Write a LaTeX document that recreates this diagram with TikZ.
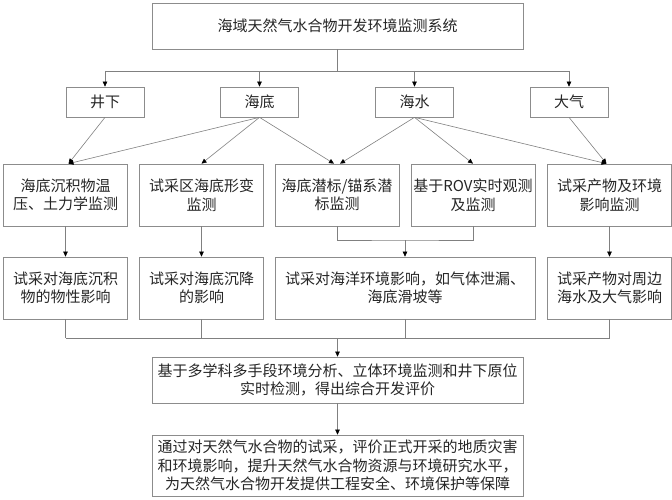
\documentclass[tikz,border=0pt]{standalone}
\usepackage{fontspec}
\newfontfamily\cjk{Noto Sans CJK SC}
\usetikzlibrary{arrows.meta}
\begin{document}
\begin{tikzpicture}[x=1pt,y=-1pt,
  box/.style={draw=black!45, line width=0.7pt, rectangle, inner sep=1pt, align=center,
    font=\cjk\fontsize{15}{18.5}\selectfont, text=black!85},
  conn/.style={draw=black!50, line width=0.6pt},
  arr/.style={conn, -{Triangle[length=5pt,width=4.5pt,color=black]}}]
\useasboundingbox (0,0) rectangle (672,500);
% top
\node[box, minimum width=371pt, minimum height=46pt] (top) at (337.5,26) {海域天然气水合物开发环境监测系统};
% level 2
\node[box, minimum width=78pt, minimum height=30pt] (jx) at (105,102) {井下};
\node[box, minimum width=78pt, minimum height=30pt] (hd) at (259.5,102) {海底};
\node[box, minimum width=78pt, minimum height=30pt] (hs) at (414.5,102) {海水};
\node[box, minimum width=78pt, minimum height=30pt] (dq) at (569,102) {大气};
% level 3
\node[box, minimum width=124pt, minimum height=62pt] (a1) at (65.5,195) {海底沉积物温\\压、土力学监测};
\node[box, minimum width=124pt, minimum height=62pt] (a2) at (201.5,195) {试采区海底形变\\监测};
\node[box, minimum width=124pt, minimum height=62pt] (a3) at (337,195) {海底潜标/锚系潜\\标监测};
\node[box, minimum width=124pt, minimum height=62pt] (a4) at (473,195) {基于ROV实时观测\\及监测};
\node[box, minimum width=124pt, minimum height=62pt] (a5) at (609.5,195) {试采产物及环境\\影响监测};
% level 4
\node[box, minimum width=124pt, minimum height=62pt] (b1) at (65.5,288) {试采对海底沉积\\物的物性影响};
\node[box, minimum width=124pt, minimum height=62pt] (b2) at (201.5,288) {试采对海底沉降\\的影响};
\node[box, minimum width=260pt, minimum height=62pt] (b3) at (405,288) {试采对海洋环境影响，如气体泄漏、\\海底滑坡等};
\node[box, minimum width=124pt, minimum height=62pt] (b4) at (609.5,288) {试采产物对周边\\海水及大气影响};
% bottom
\node[box, minimum width=371pt, minimum height=46pt] (c1) at (337.5,380) {基于多学科多手段环境分析、立体环境监测和井下原位\\实时检测，得出综合开发评价};
\node[box, minimum width=371pt, minimum height=61pt] (c2) at (337.5,465.5) {通过对天然气水合物的试采，评价正式开采的地质灾害\\和环境影响，提升天然气水合物资源与环境研究水平，\\为天然气水合物开发提供工程安全、环境保护等保障};
% coordinates
\coordinate (h1) at (337.5,71);
\coordinate (h2) at (405,240);
\coordinate (h3) at (337.5,338);
% top to level 2
\draw[conn] (top.south) -- (h1);
\draw[conn] (jx.north |- h1) -- (dq.north |- h1);
\foreach \n in {jx,hd,hs,dq} \draw[arr] (\n.north |- h1) -- (\n.north);
% level 2 to level 3
\draw[arr] (jx.south) -- ([xshift=3pt]a1.north);
\draw[arr] (hd.south) -- ([xshift=3pt]a1.north);
\draw[arr] (hd.south) -- (a2.north);
\draw[arr] (hd.south) -- ([xshift=-3pt]a3.north);
\draw[arr] (hs.south) -- ([xshift=3pt]a3.north);
\draw[arr] (hs.south) -- (a4.north);
\draw[arr] (hs.south) -- ([xshift=-3pt]a5.north);
\draw[arr] (dq.south) -- ([xshift=-3pt]a5.north);
% level 3 to level 4
\draw[arr] (a1.south) -- (b1.north);
\draw[arr] (a2.south) -- (b2.north);
\draw[arr] (a5.south) -- (b4.north);
\draw[conn] (a3.south) |- (h2) -| (a4.south);
\draw[arr] (h2) -- (b3.north);
% level 4 to bottom
\foreach \n in {b1,b2,b3,b4} \draw[conn] (\n.south) -- (\n.south |- h3);
\draw[conn] (b1.south |- h3) -- (b4.south |- h3);
\draw[arr] (h3) -- (c1.north);
\draw[arr] (c1.south) -- (c2.north);
\end{tikzpicture}
\end{document}
